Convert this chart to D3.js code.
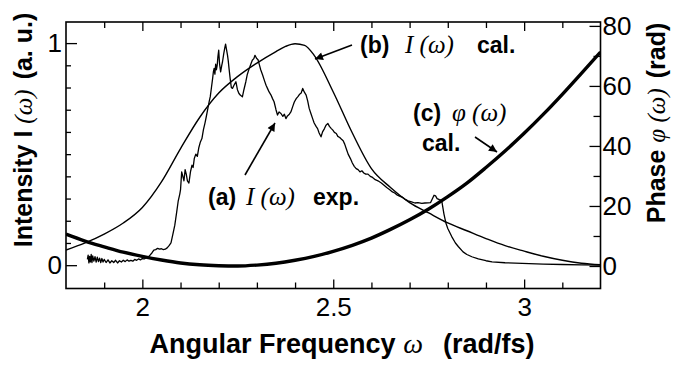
<!DOCTYPE html>
<html>
<head>
<meta charset="utf-8">
<script src="https://cdn.jsdelivr.net/npm/d3@7"></script>
<style>
  body { margin: 0; background: #fff; }
  text { font-family: 'Liberation Sans', Arial, sans-serif; fill: #000; }
  .serif { font-family: 'Liberation Serif', 'DejaVu Serif', serif; font-style: italic; font-weight: normal; }
</style>
</head>
<body>
<div id="chart"></div>
<script>
// (b) calculated spectrum I(w)
let calcW = [1.80, 1.85, 1.90, 1.95, 2.00, 2.05, 2.10, 2.15, 2.20, 2.25, 2.30, 2.35, 2.375, 2.40, 2.425,
  2.45, 2.50, 2.55, 2.60, 2.65, 2.70, 2.75, 2.80, 2.85, 2.90, 2.95, 3.00, 3.05, 3.10, 3.15, 3.20]
let calcI = [0.068, 0.10, 0.14, 0.19, 0.26, 0.375, 0.525, 0.665, 0.775, 0.85, 0.91, 0.962, 0.985, 0.997, 0.99,
  0.945, 0.78, 0.595, 0.435, 0.35, 0.282, 0.235, 0.19, 0.155, 0.12, 0.088, 0.063, 0.04, 0.022, 0.009, 0.002]

// (c) calculated phase (rad)
let phaseW = [1.80, 1.85, 1.90, 1.95, 2.00, 2.05, 2.10, 2.15, 2.20, 2.25, 2.30, 2.35, 2.40, 2.45, 2.50,
  2.55, 2.60, 2.65, 2.70, 2.75, 2.80, 2.85, 2.90, 2.95, 3.00, 3.05, 3.10, 3.15, 3.20]
let phaseP = [10.6, 8.3, 6.4, 4.6, 3.2, 2.0, 1.0, 0.4, 0.1, 0.0, 0.3, 0.9, 1.9, 3.2, 4.9,
  6.9, 9.3, 12.2, 15.4, 19.0, 23.1, 27.6, 32.8, 38.3, 44.2, 50.5, 57.2, 64.2, 71.3]

// (a) measured spectrum
let expW = [1.856, 1.858, 1.860, 1.862, 1.864, 1.866, 1.868, 1.870, 1.873, 1.876, 1.879, 1.882, 1.885, 1.888,
  1.891, 1.894, 1.897, 1.900, 1.905, 1.910, 1.915, 1.920, 1.925, 1.930, 1.935, 1.940, 1.945, 1.950, 1.955,
  1.960, 1.965, 1.970, 1.975, 1.980, 1.985, 1.990, 1.995, 2.000, 2.005, 2.010, 2.015, 2.020, 2.025, 2.030,
  2.035, 2.040, 2.045, 2.050, 2.055, 2.060, 2.065, 2.070, 2.075, 2.080, 2.085, 2.090, 2.094, 2.098, 2.100,
  2.103, 2.106, 2.109, 2.112, 2.115, 2.118, 2.122, 2.126, 2.130, 2.133, 2.136, 2.140, 2.144, 2.148, 2.152,
  2.156, 2.160, 2.164, 2.167, 2.171, 2.175, 2.178, 2.181, 2.184, 2.186, 2.188, 2.190, 2.192, 2.194, 2.196,
  2.198, 2.200, 2.202, 2.205, 2.208, 2.210, 2.213, 2.216, 2.218, 2.220, 2.223, 2.225, 2.227, 2.230, 2.233,
  2.236, 2.240, 2.245, 2.249, 2.253, 2.257, 2.262, 2.266, 2.271, 2.275, 2.280, 2.284, 2.288, 2.292, 2.295,
  2.299, 2.303, 2.306, 2.310, 2.315, 2.320, 2.324, 2.328, 2.332, 2.337, 2.341, 2.345, 2.350, 2.354, 2.358,
  2.363, 2.368, 2.372, 2.376, 2.380, 2.385, 2.389, 2.394, 2.398, 2.403, 2.408, 2.412, 2.416, 2.420, 2.424,
  2.429, 2.433, 2.437, 2.441, 2.446, 2.450, 2.455, 2.459, 2.463, 2.468, 2.472, 2.477, 2.481, 2.486, 2.490,
  2.495, 2.499, 2.503, 2.508, 2.512, 2.517, 2.521, 2.526, 2.530, 2.535, 2.539, 2.545, 2.550, 2.555, 2.560,
  2.565, 2.570, 2.575, 2.580, 2.585, 2.591, 2.597, 2.603, 2.610, 2.617, 2.626, 2.633, 2.640, 2.648, 2.655,
  2.661, 2.668, 2.675, 2.682, 2.690, 2.696, 2.705, 2.714, 2.722, 2.732, 2.740, 2.748, 2.755, 2.760, 2.764,
  2.768, 2.772, 2.778, 2.784, 2.790, 2.795, 2.800, 2.810, 2.820, 2.828, 2.840, 2.850, 2.863, 2.880, 2.900,
  2.916, 2.950, 2.995, 3.050, 3.100, 3.150, 3.200]
let expI = [0.026, 0.045, 0.010, 0.040, 0.015, 0.048, 0.012, 0.042, 0.018, 0.038, 0.014, 0.036, 0.016, 0.032,
  0.012, 0.030, 0.014, 0.026, 0.012, 0.024, 0.010, 0.020, 0.012, 0.022, 0.010, 0.020, 0.014, 0.022, 0.016,
  0.024, 0.018, 0.022, 0.018, 0.026, 0.022, 0.028, 0.024, 0.030, 0.028, 0.034, 0.036, 0.045, 0.055, 0.068,
  0.070, 0.076, 0.072, 0.074, 0.070, 0.072, 0.078, 0.088, 0.100, 0.140, 0.180, 0.240, 0.290, 0.320, 0.340,
  0.420, 0.400, 0.380, 0.430, 0.410, 0.380, 0.370, 0.420, 0.450, 0.440, 0.480, 0.500, 0.490, 0.530, 0.555,
  0.570, 0.610, 0.640, 0.665, 0.700, 0.736, 0.760, 0.800, 0.840, 0.870, 0.886, 0.860, 0.905, 0.880, 0.900,
  0.940, 0.968, 0.910, 0.870, 0.900, 0.916, 0.950, 0.980, 0.995, 0.975, 0.946, 0.920, 0.886, 0.840, 0.800,
  0.796, 0.810, 0.826, 0.790, 0.773, 0.765, 0.758, 0.790, 0.826, 0.860, 0.886, 0.905, 0.923, 0.930, 0.945,
  0.932, 0.925, 0.905, 0.880, 0.856, 0.830, 0.810, 0.795, 0.780, 0.766, 0.750, 0.736, 0.700, 0.676, 0.690,
  0.683, 0.670, 0.680, 0.660, 0.672, 0.680, 0.690, 0.715, 0.735, 0.750, 0.760, 0.770, 0.775, 0.796, 0.780,
  0.766, 0.740, 0.706, 0.685, 0.660, 0.640, 0.625, 0.615, 0.595, 0.578, 0.600, 0.615, 0.630, 0.638, 0.625,
  0.615, 0.608, 0.598, 0.593, 0.580, 0.575, 0.568, 0.560, 0.545, 0.520, 0.500, 0.480, 0.460, 0.445, 0.435,
  0.430, 0.420, 0.425, 0.415, 0.410, 0.410, 0.400, 0.395, 0.385, 0.380, 0.370, 0.360, 0.350, 0.340, 0.330,
  0.325, 0.315, 0.310, 0.305, 0.295, 0.290, 0.285, 0.280, 0.282, 0.278, 0.280, 0.281, 0.282, 0.300, 0.315,
  0.312, 0.300, 0.295, 0.292, 0.230, 0.190, 0.165, 0.130, 0.100, 0.083, 0.060, 0.048, 0.038, 0.028, 0.020,
  0.015, 0.011, 0.008, 0.005, 0.003, 0.001, 0.000]

let xTicks = [2, 2.5, 3]
let xMinor = [1.9, 2.1, 2.2, 2.3, 2.4, 2.6, 2.7, 2.8, 2.9, 3.1]
let yTicks = [0, 1]
let yMinor = [0.1, 0.2, 0.3, 0.4, 0.5, 0.6, 0.7, 0.8, 0.9]
let phaseTicks = [0, 20, 40, 60, 80]
let phaseMinor = [10, 30, 50, 70]

let margin = { top: 22, left: 66, right: 72.5, bottom: 77.5 }
let width = 673 - margin.left - margin.right
let height = 366 - margin.top - margin.bottom

let root = d3
  .select('#chart')
  .append('svg')
  .attr('width', 673)
  .attr('height', 366)

let svg = root
  .append('g')
  .attr('transform', 'translate(' + margin.left + ',' + margin.top + ')')

let x = d3.scaleLinear().domain([1.8, 3.2]).range([0, width])
let yI = d3.scaleLinear().domain([-0.105, 1.095]).range([height, 0])
let yP = d3.scaleLinear().domain([-7.5, 81.3]).range([height, 0])

root.append('defs')
  .append('clipPath')
  .attr('id', 'clip')
  .append('rect')
  .attr('width', width)
  .attr('height', height)

root.select('defs')
  .append('marker')
  .attr('id', 'head')
  .attr('viewBox', '0 0 10 10')
  .attr('refX', 10)
  .attr('refY', 5)
  .attr('markerWidth', 11)
  .attr('markerHeight', 8)
  .attr('markerUnits', 'userSpaceOnUse')
  .attr('orient', 'auto')
  .append('path')
  .attr('d', 'M0,0L10,5L0,10z')
  .attr('fill', '#000')

// axes, ticks all point into the frame
function styleAxis(g) {
  g.select('.domain').remove()
  g.selectAll('line').attr('stroke', '#000').attr('stroke-width', 1.3)
  g.selectAll('text').attr('font-size', 26).attr('font-family', "'Liberation Sans', Arial, sans-serif")
}

svg.append('g')
  .attr('transform', 'translate(0,' + height + ')')
  .call(d3.axisBottom(x).tickValues(xMinor).tickSize(-6).tickFormat(''))
  .call(styleAxis)
svg.append('g')
  .attr('transform', 'translate(0,' + height + ')')
  .call(d3.axisBottom(x).tickValues(xTicks).tickSize(-9).tickPadding(9).tickFormat(d3.format('')))
  .call(styleAxis)

svg.append('g')
  .call(d3.axisTop(x).tickValues(xMinor).tickSize(-6).tickFormat(''))
  .call(styleAxis)
svg.append('g')
  .call(d3.axisTop(x).tickValues(xTicks).tickSize(-9).tickFormat(''))
  .call(styleAxis)

svg.append('g')
  .call(d3.axisLeft(yI).tickValues(yMinor).tickSize(-5).tickFormat(''))
  .call(styleAxis)
svg.append('g')
  .call(d3.axisLeft(yI).tickValues(yTicks).tickSize(-11).tickPadding(4).tickFormat(d3.format('')))
  .call(styleAxis)

svg.append('g')
  .attr('transform', 'translate(' + width + ',0)')
  .call(d3.axisRight(yP).tickValues(phaseMinor).tickSize(-7).tickFormat(''))
  .call(styleAxis)
svg.append('g')
  .attr('transform', 'translate(' + width + ',0)')
  .call(d3.axisRight(yP).tickValues(phaseTicks).tickSize(-11).tickPadding(2).tickFormat(d3.format('')))
  .call(styleAxis)

svg.append('rect')
  .attr('width', width)
  .attr('height', height)
  .attr('fill', 'none')
  .attr('stroke', '#000')
  .attr('stroke-width', 1.6)

// curves
let plot = svg.append('g').attr('clip-path', 'url(#clip)')

let calcLine = d3.line()
  .x((d, i) => x(calcW[i]))
  .y(d => yI(d))
  .curve(d3.curveMonotoneX)

let phaseLine = d3.line()
  .x((d, i) => x(phaseW[i]))
  .y(d => yP(d))
  .curve(d3.curveMonotoneX)

let expLine = d3.line()
  .x((d, i) => x(expW[i]))
  .y(d => yI(d))

plot.append('path')
  .datum(calcI)
  .attr('d', calcLine)
  .attr('fill', 'none')
  .attr('stroke', '#000')
  .attr('stroke-width', 1.4)

plot.append('path')
  .datum(expI)
  .attr('d', expLine)
  .attr('fill', 'none')
  .attr('stroke', '#000')
  .attr('stroke-width', 1.3)
  .attr('stroke-linejoin', 'round')

plot.append('path')
  .datum(phaseP)
  .attr('d', phaseLine)
  .attr('fill', 'none')
  .attr('stroke', '#000')
  .attr('stroke-width', 3.4)

// axis titles
let xLabel = svg.append('text')
  .attr('x', 276)
  .attr('y', 331)
  .attr('text-anchor', 'middle')
  .attr('font-size', 27)
  .attr('font-weight', 'bold')
xLabel.append('tspan').text('Angular Frequency ')
xLabel.append('tspan').attr('class', 'serif').attr('font-size', 28).text('ω')
xLabel.append('tspan').attr('dx', 20).text('(rad/fs)')

let yLabel = svg.append('text')
  .attr('transform', 'rotate(-90)')
  .attr('x', -108)
  .attr('y', -34)
  .attr('text-anchor', 'middle')
  .attr('font-size', 25)
  .attr('font-weight', 'bold')
yLabel.append('tspan').text('Intensity I ')
yLabel.append('tspan').attr('class', 'serif').attr('font-size', 25).text('(ω)')
yLabel.append('tspan').attr('dx', 10).text('(a. u.)')

let pLabel = svg.append('text')
  .attr('transform', 'rotate(-90)')
  .attr('x', -101)
  .attr('y', 599)
  .attr('text-anchor', 'middle')
  .attr('font-size', 25)
  .attr('font-weight', 'bold')
pLabel.append('tspan').text('Phase ')
pLabel.append('tspan').attr('class', 'serif').attr('font-size', 25).text('φ (ω)')
pLabel.append('tspan').attr('dx', 10).text('(rad)')

// annotations with arrows
let notes = root.append('g').attr('font-size', 23).attr('font-weight', 'bold')

function note(y0, parts) {
  let t = notes.append('text').attr('y', y0)
  parts.forEach(p => {
    let s = t.append('tspan').attr('x', p[0]).text(p[1])
    if (p[2]) s.attr('class', 'serif').attr('font-size', 25)
  })
}

note(205, [[208, '(a)'], [246, 'I (ω)', true], [313, 'exp.']])
note(53, [[360, '(b)'], [405, 'I (ω)', true], [477, 'cal.']])
note(121, [[413, '(c)'], [452, 'φ (ω)', true]])
note(151, [[422, 'cal.']])

let arrows = [
  [245, 175, 275, 123],
  [352, 45, 315, 59],
  [475, 137, 497, 152]
]

root.selectAll('.arrow')
  .data(arrows)
  .enter()
  .append('line')
  .attr('class', 'arrow')
  .attr('x1', d => d[0])
  .attr('y1', d => d[1])
  .attr('x2', d => d[2])
  .attr('y2', d => d[3])
  .attr('stroke', '#000')
  .attr('stroke-width', 1.6)
  .attr('marker-end', 'url(#head)')
</script>
</body>
</html>
